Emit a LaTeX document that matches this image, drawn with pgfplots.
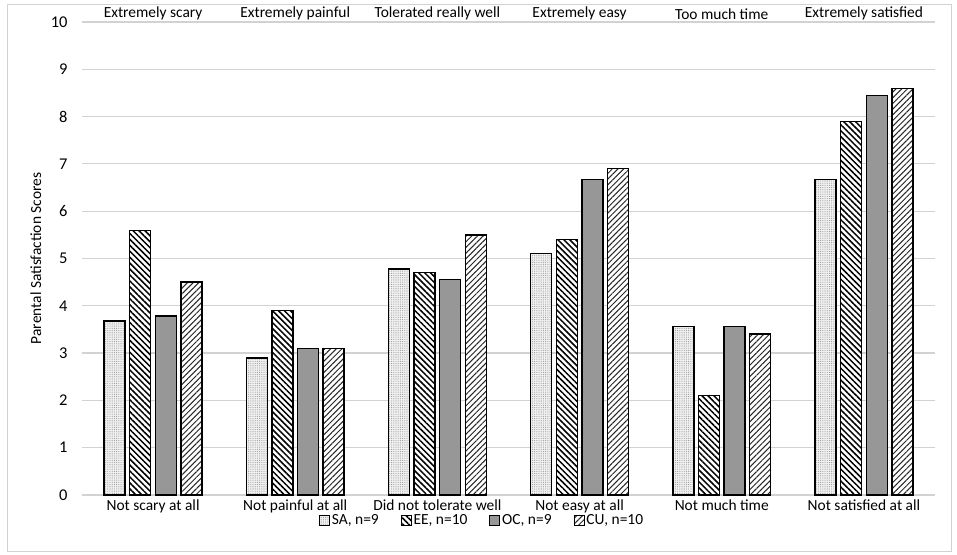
\documentclass[border=0pt]{standalone}
\usepackage{pgfplots}
\pgfplotsset{compat=1.18}
\usetikzlibrary{patterns.meta}
\usepackage{fontspec}
\setmainfont{Carlito}
\newcommand\cf{\fontsize{15.5}{18}\selectfont}
\begin{document}
\begin{tikzpicture}[x=1bp,y=1bp]
\useasboundingbox (0,0) rectangle (957,555);
\draw[gray!35, line width=1bp] (7,3) rectangle (951,550);
\begin{axis}[
 at={(82bp,60bp)}, anchor=south west,
 width=853bp, height=473bp, scale only axis,
 ymin=0, ymax=10, ytick={0,1,...,10},
 xmin=-0.5, xmax=5.5, xtick={0,1,2,3,4,5},
 xticklabels={Not scary at all, Not painful at all, Did not tolerate well, Not easy at all, Not much time, Not satisfied at all},
 ybar=4.6bp, bar width=21bp,
 axis line style={draw=none},
 tick style={draw=none},
 ymajorgrids, grid style={gray!35, line width=1.2bp},
 /pgf/number format/assume math mode=true,
 yticklabel style={xshift=-11bp, font=\fontsize{16.5}{19}\selectfont},
 xticklabel style={inner sep=1bp, yshift=1bp, font=\cf},
 ylabel={Parental Satisfaction Scores},
 ylabel style={at={(axis description cs:-0.054,0.5)}, anchor=center, font=\cf},
 legend style={at={(0.469,-0.053)}, anchor=center, draw=none, fill=none, legend columns=4,
   /tikz/every even column/.append style={column sep=20bp}, font=\cf},
 legend image code/.code={\draw[#1, line width=0.8bp] (0bp,-5bp) rectangle (10bp,5bp);},
 clip=false,
]
\addplot[draw=black, line width=1.4bp, fill=gray!12, postaction={pattern={Dots[distance=2.2bp, radius=0.55bp]}, pattern color=gray!80}]
 coordinates {(0,3.68) (1,2.9) (2,4.78) (3,5.11) (4,3.56) (5,6.67)};
\addplot[draw=black, line width=1.4bp, fill=white, postaction={pattern={Lines[angle=-45, distance=4.2bp, line width=1.5bp]}, pattern color=black}]
 coordinates {(0,5.59) (1,3.9) (2,4.7) (3,5.4) (4,2.1) (5,7.9)};
\addplot[draw=black, line width=1.4bp, fill=gray!60, postaction={pattern={Dots[distance=2bp, radius=0.6bp]}, pattern color=black!75}]
 coordinates {(0,3.78) (1,3.1) (2,4.56) (3,6.67) (4,3.56) (5,8.44)};
\addplot[draw=black, line width=1.4bp, fill=white, postaction={pattern={Lines[angle=45, distance=4bp, line width=1bp]}, pattern color=black!85}]
 coordinates {(0,4.5) (1,3.1) (2,5.5) (3,6.9) (4,3.4) (5,8.6)};
\legend{SA{,} n=9, EE{,} n=10, OC{,} n=9, CU{,} n=10}
\node[above, inner sep=2bp, font=\cf] at (axis cs:0,10) {Extremely scary};
\node[above, inner sep=2bp, font=\cf] at (axis cs:1,10) {Extremely painful};
\node[above, inner sep=2bp, font=\cf] at (axis cs:2,10) {Tolerated really well};
\node[above, inner sep=2bp, font=\cf] at (axis cs:3,10) {Extremely easy};
\node[above, inner sep=2bp, font=\cf] at (axis cs:4,10) {Too much time};
\node[above, inner sep=2bp, font=\cf] at (axis cs:5,10) {Extremely satisfied};
\end{axis}
\end{tikzpicture}
\end{document}
